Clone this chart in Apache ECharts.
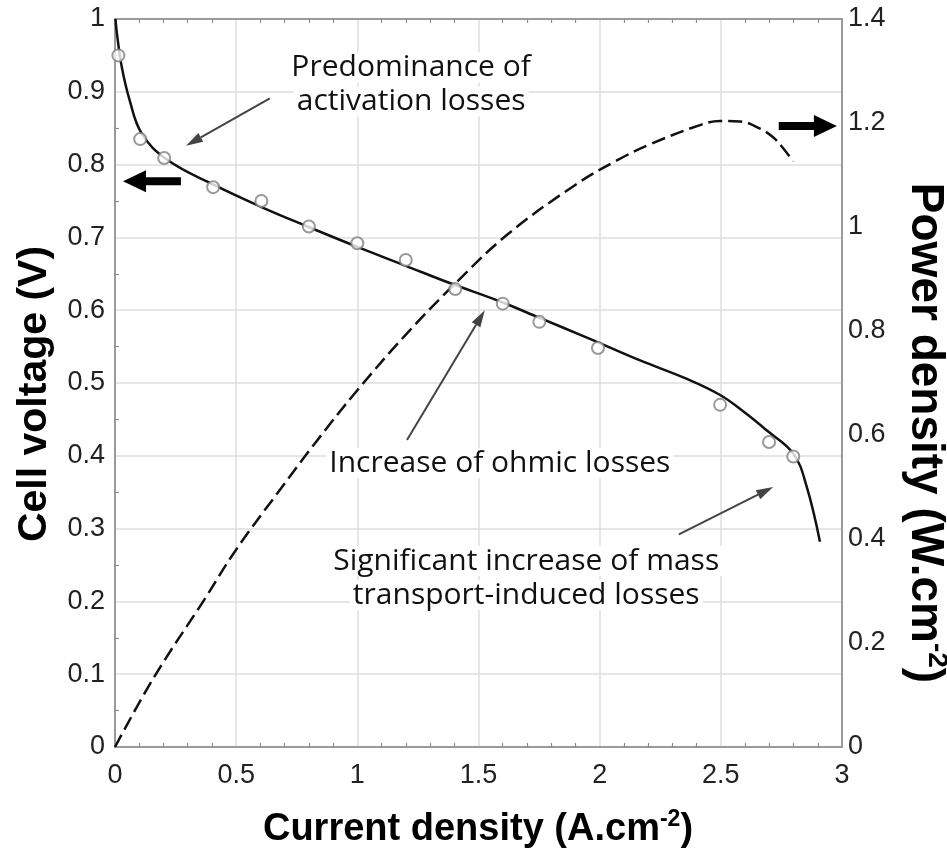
<!DOCTYPE html>
<html>
<head>
<meta charset="utf-8">
<script src="https://cdn.jsdelivr.net/npm/echarts@6/dist/echarts.min.js"></script>
<style>
  html, body { margin: 0; padding: 0; background: #ffffff; }
  #chart { width: 947px; height: 850px; }
</style>
</head>
<body>
<div id="chart"></div>
<script>
// Polarization curve (fitted model), current density in A/cm2, voltage in V
const fitCurrent = [0.002, 0.008, 0.028, 0.06, 0.11, 0.214, 0.409, 0.602, 0.794, 1.0, 1.2, 1.384, 1.59, 1.755, 1.95, 2.167, 2.35, 2.497, 2.6, 2.689, 2.799, 2.854, 2.909];
const fitVoltage = [1.0, 0.98, 0.934, 0.889, 0.843, 0.807, 0.772, 0.742, 0.715, 0.687, 0.661, 0.637, 0.612, 0.589, 0.562, 0.531, 0.507, 0.4835, 0.459, 0.435, 0.403, 0.358, 0.282];

// Power density curve, W/cm2
const powerCurrent = [0, 0.162, 0.368, 0.499, 0.67, 0.835, 1.0, 1.206, 1.412, 1.618, 1.893, 2.071, 2.208, 2.414, 2.497, 2.579, 2.662, 2.717, 2.758, 2.799];
const powerDensity = [0, 0.135, 0.283, 0.379, 0.488, 0.59, 0.686, 0.796, 0.895, 0.985, 1.079, 1.128, 1.159, 1.196, 1.204, 1.203, 1.189, 1.172, 1.151, 1.126];

// Measured cell voltage
const measCurrent = [0.014, 0.104, 0.203, 0.405, 0.604, 0.80, 1.0, 1.2, 1.404, 1.60, 1.751, 1.993, 2.497, 2.699, 2.799];
const measVoltage = [0.95, 0.835, 0.809, 0.769, 0.750, 0.715, 0.692, 0.669, 0.629, 0.609, 0.584, 0.548, 0.470, 0.419, 0.399];

// Axis ranges and tick steps
const xRange = [0, 3], xStep = 0.5;
const vRange = [0, 1], vStep = 0.1;
const pRange = [0, 1.4], pStep = 0.2;

// Annotation texts (block centre, arrow tail and arrow tip in data units)
const notes = [
  { lines: ['Predominance of', 'activation losses'], at: [1.222, 0.910], tail: [0.639, 0.891], tip: [0.293, 0.826] },
  { lines: ['Increase of ohmic losses'], at: [1.588, 0.390], tail: [1.205, 0.4217], tip: [1.526, 0.600] },
  { lines: ['Significant increase of mass', 'transport-induced losses'], at: [1.697, 0.232], tail: [2.327, 0.292], tip: [2.716, 0.357] }
];

const zip = (a, b) => a.map((v, i) => [v, b[i]]);

const TICK_FONT = '"Liberation Sans", Arial, sans-serif';
const NOTE_FONT = '"Open Sans", "Noto Sans", sans-serif';
const AXIS_COLOR = '#9a9a9a';
const GRID_COLOR = '#dedede';
const fmt = v => String(+v.toFixed(2));

const chart = echarts.init(document.getElementById('chart'), null, { renderer: 'canvas' });

const baseAxis = {
  type: 'value',
  axisLine: { show: true, onZero: false, lineStyle: { color: AXIS_COLOR, width: 2 } },
  axisTick: { show: false, inside: true },
  minorTick: { show: true, length: 4, lineStyle: { color: '#8c8c8c', width: 1.2 } },
  minorSplitLine: { show: false }
};

chart.setOption({
  animation: false,
  backgroundColor: '#ffffff',
  grid: { left: 115, top: 19, right: 105, bottom: 103, containLabel: false },
  xAxis: [
    Object.assign({}, baseAxis, {
      position: 'bottom', min: xRange[0], max: xRange[1], interval: xStep,
      minorTick: Object.assign({}, baseAxis.minorTick, { splitNumber: 5 }),
      splitLine: { show: true, lineStyle: { color: GRID_COLOR, width: 1.5 } },
      axisLabel: { fontSize: 27, color: '#222', fontFamily: TICK_FONT, margin: 15, formatter: fmt }
    }),
    Object.assign({}, baseAxis, {
      position: 'top', min: xRange[0], max: xRange[1], interval: xStep,
      minorTick: Object.assign({}, baseAxis.minorTick, { splitNumber: 5 }),
      splitLine: { show: false }, axisLabel: { show: false }
    })
  ],
  yAxis: [
    Object.assign({}, baseAxis, {
      position: 'left', min: vRange[0], max: vRange[1], interval: vStep,
      minorTick: Object.assign({}, baseAxis.minorTick, { splitNumber: 2 }),
      splitLine: { show: true, lineStyle: { color: GRID_COLOR, width: 1.5 } },
      axisLabel: { fontSize: 27, color: '#222', fontFamily: TICK_FONT, margin: 10, formatter: fmt }
    }),
    Object.assign({}, baseAxis, {
      position: 'right', min: pRange[0], max: pRange[1], interval: pStep,
      minorTick: { show: false },
      splitLine: { show: false },
      axisLabel: { fontSize: 27, color: '#222', fontFamily: TICK_FONT, margin: 6, formatter: fmt }
    })
  ],
  series: [
    {
      name: 'Cell voltage', type: 'line', xAxisIndex: 0, yAxisIndex: 0,
      data: zip(fitCurrent, fitVoltage), showSymbol: false, smooth: 0.4,
      lineStyle: { color: '#111', width: 2.5 }, z: 3
    },
    {
      name: 'Power density', type: 'line', xAxisIndex: 0, yAxisIndex: 1,
      data: zip(powerCurrent, powerDensity), showSymbol: false, smooth: 0.4,
      lineStyle: { color: '#111', width: 2.5, type: [14, 6] }, z: 3
    },
    {
      name: 'Measured', type: 'scatter', xAxisIndex: 0, yAxisIndex: 0,
      data: zip(measCurrent, measVoltage), symbol: 'circle', symbolSize: 12,
      itemStyle: { color: '#ffffff', borderColor: '#808080', borderWidth: 2 }, z: 5
    }
  ]
});

// Overlay: annotations, arrows and axis titles
const toPx = (p, yIdx) => chart.convertToPixel({ xAxisIndex: 0, yAxisIndex: yIdx || 0 }, p);

function thinArrow(tail, tip, color) {
  const a = toPx(tail), b = toPx(tip);
  const dx = b[0] - a[0], dy = b[1] - a[1];
  const len = Math.hypot(dx, dy), ux = dx / len, uy = dy / len;
  const hl = 17, hw = 5;
  const base = [b[0] - ux * hl, b[1] - uy * hl];
  return [
    { type: 'line', shape: { x1: a[0], y1: a[1], x2: base[0], y2: base[1] },
      style: { stroke: color, lineWidth: 2 }, z: 20 },
    { type: 'polygon', shape: { points: [b, [base[0] - uy * hw, base[1] + ux * hw], [base[0] + uy * hw, base[1] - ux * hw]] },
      style: { fill: color }, z: 20 }
  ];
}

function blockArrow(tail, tip, yIdx) {
  const a = toPx(tail, yIdx), b = toPx(tip, yIdx);
  const dir = Math.sign(b[0] - a[0]);
  const hl = 23, hw = 11, sw = 4;
  const bx = b[0] - dir * hl, y = b[1];
  return {
    type: 'polygon', z: 20,
    shape: { points: [[a[0], y - sw], [bx, y - sw], [bx, y - hw], [b[0], y], [bx, y + hw], [bx, y + sw], [a[0], y + sw]] },
    style: { fill: '#000' }
  };
}

const graphics = [];
notes.forEach(n => {
  const c = toPx(n.at);
  const lh = 34;
  n.lines.forEach((t, i) => {
    graphics.push({
      type: 'text', z: 15,
      style: {
        text: t, x: c[0], y: c[1] + (i - (n.lines.length - 1) / 2) * lh,
        align: 'center', verticalAlign: 'middle',
        font: '30px ' + NOTE_FONT, fill: '#111',
        backgroundColor: '#ffffff', padding: [0, 3]
      }
    });
  });
  graphics.push(...thinArrow(n.tail, n.tip, '#444'));
});
graphics.push(blockArrow([0.272, 0.777], [0.033, 0.777], 0));
graphics.push(blockArrow([2.739, 0.853], [2.979, 0.853], 0));

const titleRich = (size) => ({
  t: { fontSize: size, fontWeight: 'bold', fontFamily: TICK_FONT, fill: '#000', lineHeight: size + 6 },
  s: { fontSize: Math.round(size * 0.6), fontWeight: 'bold', fontFamily: TICK_FONT, fill: '#000', verticalAlign: 'top', lineHeight: size + 6 }
});
graphics.push({
  type: 'text', z: 15, x: 478, y: 830,
  style: { text: '{t|Current density (A.cm}{s|-2}{t|)}', rich: titleRich(38), align: 'center', verticalAlign: 'middle' }
});
graphics.push({
  type: 'text', z: 15, x: 35, y: 394, rotation: Math.PI / 2,
  style: { text: '{t|Cell voltage (V)}', rich: titleRich(41), align: 'center', verticalAlign: 'middle' }
});
graphics.push({
  type: 'text', z: 15, x: 925, y: 433, rotation: -Math.PI / 2,
  style: { text: '{t|Power density (W.cm}{s|-2}{t|)}', rich: titleRich(46), align: 'center', verticalAlign: 'middle' }
});

chart.setOption({ graphic: graphics });
</script>
</body>
</html>
